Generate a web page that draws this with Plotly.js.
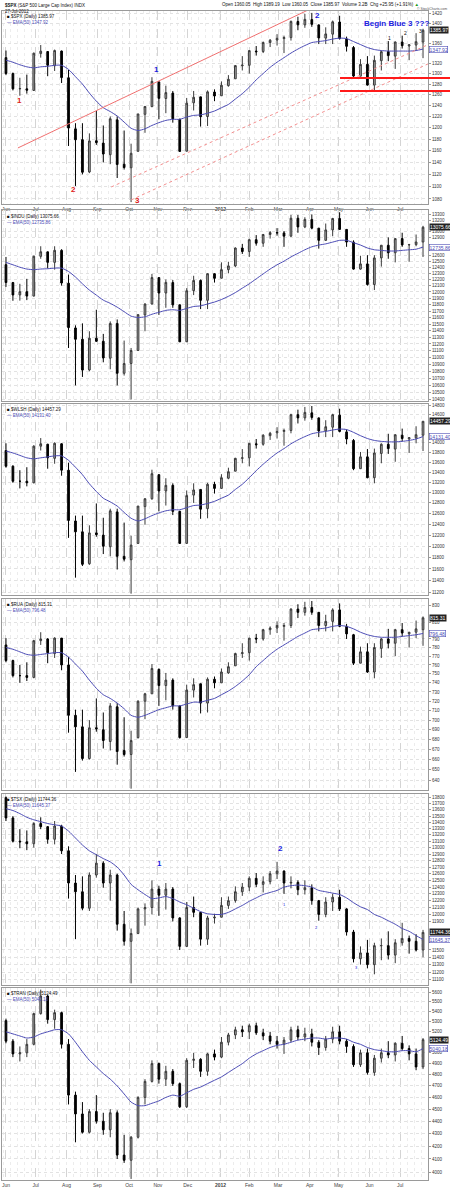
<!DOCTYPE html>
<html><head><meta charset="utf-8">
<script src="https://cdn.plot.ly/plotly-3.0.1.min.js"></script>
<style>html,body{margin:0;padding:0;background:#fff}#chart{width:450px;height:1188px}</style>
</head><body><div id="chart"></div>
<script>
// ---------- DATA (weekly bars) ----------
const weeks = ['2011-06-01','2011-06-08','2011-06-15','2011-06-22','2011-06-29','2011-07-06','2011-07-13','2011-07-20','2011-07-27','2011-08-03','2011-08-10','2011-08-17','2011-08-24','2011-08-31','2011-09-07','2011-09-14','2011-09-21','2011-09-28','2011-10-05','2011-10-12','2011-10-19','2011-10-26','2011-11-02','2011-11-09','2011-11-16','2011-11-23','2011-11-30','2011-12-07','2011-12-14','2011-12-21','2011-12-28','2012-01-04','2012-01-11','2012-01-18','2012-01-25','2012-02-01','2012-02-08','2012-02-15','2012-02-22','2012-02-29','2012-03-07','2012-03-14','2012-03-21','2012-03-28','2012-04-04','2012-04-11','2012-04-18','2012-04-25','2012-05-02','2012-05-09','2012-05-16','2012-05-23','2012-05-30','2012-06-06','2012-06-13','2012-06-20','2012-06-27','2012-07-04','2012-07-11','2012-07-18','2012-07-25'];

const monthTickDates = ['2011-06-01','2011-07-01','2011-08-01','2011-09-01','2011-10-03','2011-11-01','2011-12-01','2012-01-03','2012-02-01','2012-03-01','2012-04-02','2012-05-01','2012-06-01','2012-07-02'];
const monthTickLabels = ['Jun','Jul','Aug','Sep','Oct','Nov','Dec','<b>2012</b>','Feb','Mar','Apr','May','Jun','Jul'];

// $SPX
const spxOpen  = [1331,1300,1271,1271,1268,1339,1343,1315,1344,1292,1198,1179,1124,1177,1173,1153,1214,1137,1131,1159,1224,1238,1284,1253,1263,1215,1159,1245,1256,1220,1265,1258,1277,1290,1315,1316,1344,1343,1361,1366,1369,1371,1404,1397,1408,1397,1370,1378,1403,1368,1351,1295,1318,1278,1325,1343,1334,1362,1354,1356,1362];
const spxHigh  = [1345,1302,1292,1298,1341,1356,1344,1347,1345,1307,1208,1208,1190,1230,1204,1220,1220,1195,1172,1225,1239,1293,1285,1277,1267,1216,1254,1267,1256,1268,1270,1285,1297,1316,1334,1345,1354,1363,1368,1378,1375,1406,1414,1420,1422,1398,1392,1406,1416,1373,1354,1328,1334,1335,1345,1364,1363,1375,1357,1380,1389];
const spxLow   = [1297,1268,1258,1262,1267,1331,1295,1305,1282,1168,1101,1120,1122,1170,1140,1137,1114,1128,1075,1158,1191,1237,1215,1226,1209,1158,1159,1231,1202,1203,1248,1258,1275,1290,1306,1300,1335,1340,1352,1355,1340,1365,1386,1391,1393,1358,1358,1358,1367,1343,1292,1295,1277,1267,1306,1324,1309,1349,1326,1345,1330];
const spxClose = [1300.2,1271,1271.5,1268.5,1339.7,1343.8,1316.1,1345,1292.3,1199.4,1178.8,1123.5,1176.8,1174,1154.2,1216,1136.4,1131.4,1155.5,1224.6,1238.3,1285.1,1253.2,1263.9,1215.7,1158.7,1244.3,1255.2,1219.7,1265.3,1257.6,1277.8,1289.1,1315.4,1316.3,1344.9,1342.6,1361.2,1365.7,1369.6,1370.9,1404.2,1397.1,1408.5,1398.1,1370.3,1378.5,1403.4,1369.1,1353.4,1295.2,1317.8,1278,1325.7,1342.8,1335,1362.2,1354.7,1356.8,1362.7,1385.97];
const spxEma   = [1326,1322,1317,1313,1311,1313,1314,1316,1316,1308,1294,1280,1263,1248,1236,1229,1221,1210,1199,1195,1198,1204,1209,1213,1215,1215,1219,1222,1223,1226,1230,1236,1242,1252,1262,1274,1288,1300,1312,1322,1331,1340,1348,1355,1361,1363,1365,1368,1370,1369,1363,1357,1351,1347,1345,1344,1344,1344,1344,1345,1347.92];
const spxTicks = [1080,1100,1120,1140,1160,1180,1200,1220,1240,1260,1280,1300,1320,1340,1360,1380,1400,1420];

// $INDU
const induOpen  = [12442,12150,11952,12004,11934,12580,12655,12480,12680,12140,11440,11270,10820,11285,11240,10990,11509,10772,10913,11103,11640,11810,12230,11983,12150,11796,11232,12020,12184,11867,12294,12220,12360,12422,12720,12660,12862,12801,12950,12983,12978,12922,13233,13081,13212,13060,12850,13029,13228,13038,12821,12369,12455,12119,12554,12767,12640,12880,12772,12777,12822];
const induHigh  = [12570,12160,12130,12210,12590,12750,12660,12750,12700,12280,11480,11510,11390,11720,11350,11540,11570,11250,11140,11650,11820,12290,12230,12200,12190,11800,12060,12260,12200,12300,12300,12480,12490,12730,12790,12880,12940,12960,13010,13060,13010,13290,13290,13250,13300,13060,13140,13240,13338,13040,12850,12590,12600,12600,12770,12900,12880,12980,12790,12950,13100];
const induLow   = [12080,11860,11862,11870,11930,12540,12380,12360,12100,11140,10600,10720,10800,11230,10930,10830,10600,10740,10404,11100,11390,11800,11640,11750,11750,11230,11230,11950,11730,11730,12150,12220,12300,12400,12620,12570,12760,12740,12880,12930,12740,12910,12980,13060,13040,12710,12840,12920,13030,12740,12360,12360,12100,12030,12410,12540,12480,12740,12490,12750,12570];
const induClose = [12151,11952,12004,11934,12582,12657,12480,12681,12143,11445,11269,10818,11285,11240,10993,11509,10772,10913,11103,11644,11809,12231,11983,12153,11796,11231,12019,12184,11867,12294,12218,12360,12422,12720,12660,12862,12801,12950,12983,12978,12922,13233,13081,13212,13060,12850,13029,13228,13038,12821,12369,12455,12119,12554,12767,12640,12880,12772,12777,12822,13075.66];
const induEma   = [12480,12440,12400,12370,12360,12370,12375,12385,12385,12330,12240,12130,12030,11950,11870,11820,11760,11690,11620,11600,11610,11650,11680,11710,11720,11710,11740,11770,11780,11810,11840,11880,11930,11990,12060,12130,12210,12290,12370,12440,12500,12570,12630,12690,12740,12770,12790,12820,12850,12850,12810,12770,12720,12690,12680,12670,12670,12680,12690,12700,12735.86];
const induTicks = [10400,10500,10600,10700,10800,10900,11000,11100,11200,11300,11400,11500,11600,11700,11800,11900,12000,12100,12200,12300,12400,12500,12600,12700,12800,12900,13000,13100,13200,13300];

// $WLSH
const wlshOpen  = [13840,13520,13220,13220,13190,13930,13970,13680,13980,13440,12460,12260,11690,12240,12200,11990,12630,11820,11760,12050,12730,12880,13350,13030,13140,12640,12050,12950,13060,12690,13160,13080,13280,13420,13680,13690,13980,13970,14150,14210,14240,14260,14600,14530,14640,14530,14250,14330,14590,14230,14050,13470,13710,13290,13780,13970,13870,14160,14080,14100,14160];
const wlshHigh  = [13990,13540,13440,13500,13950,14100,13980,14010,13990,13590,12560,12560,12380,12790,12520,12690,12690,12430,12190,12740,12890,13450,13360,13280,13180,12650,13040,13180,13060,13190,13210,13360,13490,13690,13870,13990,14080,14180,14230,14330,14300,14620,14710,14770,14790,14540,14480,14620,14730,14280,14080,13810,13870,13880,13990,14190,14180,14300,14110,14350,14460];
const wlshLow   = [13490,13190,13080,13120,13180,13840,13470,13570,13330,12150,11450,11650,11670,12170,11860,11820,11590,11730,11180,12040,12390,12860,12640,12750,12570,12040,12050,12800,12500,12510,12980,13080,13260,13420,13580,13520,13880,13940,14060,14090,13940,14200,14410,14470,14490,14120,14120,14120,14220,13970,13440,13470,13280,13180,13580,13770,13610,14030,13790,13990,13830];
const wlshClose = [13520,13220,13220,13190,13930,13980,13690,13990,13440,12470,12260,11680,12240,12210,12000,12650,11820,11770,12020,12740,12880,13370,13030,13140,12640,12050,12940,13050,12680,13160,13080,13290,13410,13680,13690,13990,13960,14160,14200,14240,14260,14600,14530,14650,14540,14250,14340,14600,14240,14080,13470,13710,13290,13790,13970,13880,14170,14090,14110,14170,14457.29];
const wlshEma   = [13830,13790,13740,13690,13670,13690,13710,13730,13730,13640,13500,13350,13170,13020,12890,12820,12740,12620,12510,12460,12500,12560,12610,12650,12670,12670,12710,12750,12760,12790,12830,12890,12950,13060,13160,13290,13430,13560,13680,13790,13880,13980,14060,14130,14190,14220,14240,14270,14290,14280,14220,14150,14090,14050,14030,14020,14020,14030,14050,14080,14131.4];
const wlshTicks = [11200,11400,11600,11800,12000,12200,12400,12600,12800,13000,13200,13400,13600,13800,14000,14200,14400,14600,14800];

// $RUA
const ruaOpen  = [783,765,748,748,746,788,790,773,791,760,705,693,661,692,690,678,714,669,665,682,720,728,755,737,743,715,682,732,739,718,744,740,751,759,773,774,791,790,801,803,805,806,826,822,828,822,806,811,825,805,795,762,775,752,779,790,785,801,796,798,801];
const ruaHigh  = [791,766,760,763,789,798,791,792,791,769,711,711,700,723,708,718,718,703,689,721,729,761,756,751,745,715,738,745,739,746,747,756,763,774,785,791,796,802,805,811,809,827,832,835,836,822,819,827,833,808,796,781,785,785,791,802,802,809,798,812,817];
const ruaLow   = [763,746,740,742,745,783,762,768,754,687,648,659,660,688,671,669,655,663,632,681,701,728,715,721,711,681,682,724,707,708,734,740,750,759,768,765,785,788,795,797,788,803,815,818,819,799,799,799,804,790,760,762,751,745,768,779,770,793,780,791,782];
const ruaClose = [765,748,748,746,788,790,774,791,760,705,693,661,692,691,679,715,668,665,679,720,728,756,737,743,715,682,732,738,718,744,740,752,758,773,774,791,790,801,803,806,806,826,822,828,822,806,811,825,805,796,762,775,752,780,790,785,801,797,798,802,815.31];
const ruaEma   = [780,778,775,772,771,772,773,774,774,769,761,753,743,734,727,723,718,712,705,703,705,708,711,713,715,715,717,719,719,721,723,727,731,736,742,749,758,765,772,778,783,788,793,797,801,802,803,805,806,805,802,798,795,793,792,792,792,793,794,795,796.48];
const ruaTicks = [630,640,650,660,670,680,690,700,710,720,730,740,750,760,770,780,790,800,810,820,830,840];

// $TSX
const tsxOpen  = [13800,13470,13100,13090,13060,13380,13330,13130,13340,12950,12460,12330,12090,12580,12760,12460,12580,11860,11620,11730,12080,12100,12370,12280,12370,11950,11550,12100,12030,11650,11950,11960,12130,12200,12330,12400,12530,12440,12480,12600,12640,12460,12470,12360,12390,12200,12000,12180,12250,12080,11750,11380,11460,11300,11560,11560,11430,11600,11660,11620,11500];
const tsxHigh  = [13820,13500,13290,13270,13400,13480,13340,13420,13360,13020,12580,12560,12620,12900,12790,12660,12600,12050,11800,12100,12160,12500,12420,12460,12400,11960,12180,12260,12030,11980,12010,12250,12260,12410,12460,12560,12610,12560,12640,12780,12650,12560,12500,12500,12440,12210,12250,12300,12360,12090,11780,11550,11640,11600,11660,11760,11650,11880,11700,11720,11780];
const tsxLow   = [13420,13080,12990,12960,13000,13290,13060,13050,12900,12230,11650,12060,12050,12540,12390,12200,11770,11560,11050,11720,11840,12000,11980,12070,11900,11500,11540,11960,11560,11570,11870,11960,12080,12170,12270,12340,12400,12320,12440,12520,12300,12380,12280,12290,12140,11910,11960,12050,12050,11700,11330,11300,11250,11170,11360,11370,11320,11560,11450,11480,11400];
const tsxClose = [13470,13100,13090,13060,13380,13330,13130,13340,12950,12460,12330,12090,12580,12760,12460,12580,11860,11620,11730,12080,12100,12370,12280,12370,11950,11550,12100,12030,11650,11950,11960,12130,12200,12330,12400,12530,12440,12480,12600,12640,12460,12470,12360,12390,12200,12000,12180,12250,12080,11750,11380,11460,11300,11560,11560,11430,11600,11660,11620,11500,11744.36];
const tsxEma   = [13620,13590,13540,13480,13440,13410,13380,13360,13340,13260,13150,13040,12950,12890,12830,12780,12700,12580,12440,12360,12290,12230,12240,12260,12230,12180,12140,12090,12040,12010,12000,12000,12030,12080,12130,12190,12240,12290,12320,12350,12400,12420,12430,12420,12400,12350,12330,12310,12290,12240,12170,12110,12070,12000,11960,11910,11860,11800,11760,11700,11645.37];
const tsxTicks = [11100,11200,11300,11400,11500,11600,11700,11800,11900,12000,12100,12200,12300,12400,12500,12600,12700,12800,12900,13000,13100,13200,13300,13400,13500,13600,13700,13800];

// $TRAN
const tranOpen  = [5310,5110,4990,5000,5080,5380,5560,5320,5390,5080,4620,4460,4310,4480,4400,4330,4470,4130,4090,4270,4600,4740,4900,4760,4830,4720,4520,4930,4940,4830,4990,4960,5100,5170,5220,5200,5260,5190,5160,5110,5080,5120,5220,5150,5180,5100,5050,5130,5200,5110,5060,4890,5000,4820,4950,5000,4980,5090,5040,4990,4870];
const tranHigh  = [5330,5130,5060,5130,5390,5627,5570,5420,5400,5130,4650,4560,4500,4620,4470,4500,4490,4290,4280,4610,4760,4930,4910,4880,4850,4730,4950,5000,4950,5000,5030,5150,5190,5250,5260,5280,5290,5230,5200,5160,5150,5250,5260,5240,5230,5120,5160,5250,5260,5130,5080,5030,5040,4980,5040,5110,5100,5160,5070,5040,5140];
const tranLow   = [5090,4960,4920,4960,5070,5370,5280,5230,5040,4540,4230,4300,4300,4380,4290,4270,4100,4070,3950,4260,4540,4730,4720,4700,4700,4510,4510,4860,4780,4790,4930,4950,5070,5130,5150,5130,5170,5120,5080,5040,4990,5100,5120,5110,5060,4980,5020,5090,5080,5000,4870,4870,4800,4790,4910,4950,4920,5020,4930,4840,4850];
const tranClose = [5110,4990,5000,5080,5380,5560,5320,5390,5080,4620,4460,4310,4480,4400,4330,4470,4130,4090,4270,4600,4740,4900,4760,4830,4720,4520,4930,4940,4830,4990,4960,5100,5170,5220,5200,5260,5190,5160,5110,5080,5120,5220,5150,5180,5100,5050,5130,5200,5110,5060,4890,5000,4820,4950,5000,4980,5090,5040,4990,4870,5124.49];
const tranEma   = [5200,5180,5160,5140,5150,5180,5200,5220,5220,5180,5100,5010,4930,4870,4810,4760,4700,4630,4560,4530,4530,4550,4570,4600,4620,4610,4640,4670,4690,4720,4750,4780,4820,4860,4900,4950,4990,5020,5050,5070,5080,5100,5120,5130,5140,5140,5130,5140,5140,5130,5100,5080,5050,5030,5020,5010,5010,5020,5020,5010,5040.18];
const tranTicks = [4000,4100,4200,4300,4400,4500,4600,4700,4800,4900,5000,5100,5200,5300,5400,5500,5600];

// Panel-1 trendlines (date, price) and support levels
const trendUpperX = ['2011-06-13','2012-04-22'];
const trendUpperY = [1164.6,1450];
const trendMidX   = ['2011-09-15','2012-07-30'];
const trendMidY   = [1099.3,1356.7];
const trendLowX   = ['2011-10-05','2012-07-30'];
const trendLowY   = [1078.4,1318.7];
const supportLevels = [1291.7,1267.1];

// ---------- LAYOUT ----------
const PL=2, PT=11, PW=426, PH=1169;
const pxX = v => (v-PL)/PW;
const pxY = v => (PT+PH-v)/PH;
const panelPix = [[11,204],[210,401],[404,595],[599,790],[794,985],[988,1180]];

const panels = [
  {sym:'$SPX', o:spxOpen,h:spxHigh,l:spxLow,c:spxClose,e:spxEma,ticks:spxTicks,range:[1072,1426]},
  {sym:'$INDU',o:induOpen,h:induHigh,l:induLow,c:induClose,e:induEma,ticks:induTicks},
  {sym:'$WLSH',o:wlshOpen,h:wlshHigh,l:wlshLow,c:wlshClose,e:wlshEma,ticks:wlshTicks},
  {sym:'$RUA', o:ruaOpen,h:ruaHigh,l:ruaLow,c:ruaClose,e:ruaEma,ticks:ruaTicks},
  {sym:'$TSX', o:tsxOpen,h:tsxHigh,l:tsxLow,c:tsxClose,e:tsxEma,ticks:tsxTicks},
  {sym:'$TRAN',o:tranOpen,h:tranHigh,l:tranLow,c:tranClose,e:tranEma,ticks:tranTicks}
];

const EMA_COLOR = '#4b4bb5';
const FONT = 'Arial, Liberation Sans, sans-serif';
const data = [];
const layout = {
  width:450, height:1188, margin:{l:PL,r:450-PL-PW,t:PT,b:1188-PT-PH},
  paper_bgcolor:'#ffffff', plot_bgcolor:'#ffffff', showlegend:false, boxgap:0.65,
  font:{family:FONT, size:5, color:'#222'},
  annotations:[], shapes:[]
};
const fmt = v => v.toFixed(2);

panels.forEach((p,i)=>{
  const s = i===0 ? '' : String(i+1);
  const xa = 'x'+s, ya = 'y'+s;
  const dom = [pxY(panelPix[i][1]), pxY(panelPix[i][0])];
  const lo = p.range ? p.range[0] : Math.min(...p.l)*0.998;
  const hi = p.range ? p.range[1] : Math.max(...p.h)*1.003;
  const Hpx = panelPix[i][1]-panelPix[i][0];
  const toPix = v => Hpx*(Math.log10(v)-Math.log10(lo))/(Math.log10(hi)-Math.log10(lo));
  const last = p.c[p.c.length-1], lastE = p.e[p.e.length-1];
  const pc = toPix(last); let pe = toPix(lastE);
  let eShift = 0;   // pixels, positive = up
  if (Math.abs(pc-pe) < 7) { eShift = (pe<=pc ? -1 : 1)*(7-Math.abs(pc-pe)); pe += eShift; }
  const shownTicks = p.ticks.filter(t => Math.abs(toPix(t)-pc) > 4.2 && Math.abs(toPix(t)-pe) > 4.2);

  layout['xaxis'+s] = {
    domain:[0,1], anchor:ya, type:'date', range:['2011-05-28','2012-07-30'],
    tickmode:'array', tickvals:monthTickDates, ticktext:monthTickLabels,
    showticklabels:(i===0||i===5), tickfont:{size:5,color:'#444'}, ticks:'',
    showgrid:true, gridcolor:'#d4d4d4', griddash:'dash', gridwidth:1,
    minor:{dtick:7*86400000, tick0:'2011-05-30', showgrid:true, gridcolor:'#ececec', griddash:'dot', ticks:''},
    rangeslider:{visible:false}, showline:true, mirror:true, linecolor:'#9a9a9a', linewidth:1,
    zeroline:false, fixedrange:true
  };
  layout['yaxis'+s] = {
    domain:dom, anchor:xa, side:'right', type:'log',
    range:[Math.log10(lo), Math.log10(hi)],
    tickmode:'array', tickvals:shownTicks, ticktext:shownTicks.map(String),
    tickfont:{size:4.5,color:'#333'}, ticks:'outside', ticklen:2, tickcolor:'#999',
    showgrid:true, gridcolor:'#e2e2e2', griddash:'dot', gridwidth:1,
    showline:true, mirror:true, linecolor:'#9a9a9a', linewidth:1, zeroline:false, fixedrange:true
  };
  data.push({
    type:'candlestick', x:weeks, open:p.o, high:p.h, low:p.l, close:p.c, xaxis:xa, yaxis:ya,
    increasing:{line:{color:'#3a3a3a',width:1}, fillcolor:'#a8a8a8'},
    decreasing:{line:{color:'#000000',width:1}, fillcolor:'#000000'},
    whiskerwidth:0, hoverinfo:'skip', showlegend:false
  });
  data.push({
    type:'scatter', mode:'lines', x:weeks, y:p.e, xaxis:xa, yaxis:ya,
    line:{color:EMA_COLOR,width:1,shape:'spline',smoothing:0.6}, hoverinfo:'skip'
  });
  const top = panelPix[i][0] + (i===1 ? 1 : 0);
  layout.annotations.push(
    {xref:'paper',yref:'paper',x:pxX(5),y:pxY(top+1),xanchor:'left',yanchor:'top',showarrow:false,align:'left',
     text:'<b>■</b> '+p.sym+' (Daily) '+fmt(last)+'<br><span style="color:'+EMA_COLOR+'">— EMA(50) '+fmt(lastE)+'</span>',
     font:{size:4.5,color:'#111'}},
    {xref:'paper',yref:ya,x:pxX(429),y:Math.log10(last),xanchor:'left',yanchor:'middle',showarrow:false,
     text:fmt(last),font:{size:5,color:'#ffffff'},bgcolor:'#222222',borderpad:0},
    {xref:'paper',yref:ya,x:pxX(429),y:Math.log10(lastE),yshift:eShift,xanchor:'left',yanchor:'middle',showarrow:false,
     text:fmt(lastE),font:{size:5,color:EMA_COLOR},bgcolor:'#ffffff',bordercolor:EMA_COLOR,borderwidth:0.6,borderpad:0}
  );
});

// trendlines in panel 1
data.push({type:'scatter',mode:'lines',x:trendUpperX,y:trendUpperY,xaxis:'x',yaxis:'y',line:{color:'#f07070',width:1},hoverinfo:'skip'});
data.push({type:'scatter',mode:'lines',x:trendMidX,y:trendMidY,xaxis:'x',yaxis:'y',line:{color:'#f49090',width:1,dash:'dot'},hoverinfo:'skip'});
data.push({type:'scatter',mode:'lines',x:trendLowX,y:trendLowY,xaxis:'x',yaxis:'y',line:{color:'#f49090',width:1,dash:'dot'},hoverinfo:'skip'});
supportLevels.forEach(v=>{
  layout.shapes.push({type:'line',xref:'paper',yref:'y',x0:pxX(340),x1:pxX(452),y0:v,y1:v,line:{color:'#ff1a1a',width:2}});
});

// wave labels
const L = (t,x,y,ya,col,size,bold)=>({xref:ya==='y'?'x':'x5',yref:ya,x:x,y:Math.log10(y),text:bold?'<b>'+t+'</b>':t,showarrow:false,
  font:{size:size,color:col,family:FONT},xanchor:'center',yanchor:'middle'});
layout.annotations.push(
  L('1','2011-06-15',1250,'y','#e02020',8,true),
  L('2','2011-08-08',1094.5,'y','#e02020',8,true),
  L('3','2011-10-11',1077,'y','#e02020',8,true),
  L('1','2011-10-31',1307,'y','#2020e0',8,true),
  L('2','2012-04-10',1415.8,'y','#2020e0',8,true),
  L('1','2012-06-21',1370.5,'y','#111',5,false),
  L('2','2012-07-07',1380.6,'y','#111',5,false),
  L('3','2012-07-22',1385,'y','#111',5,false),
  L('1','2011-11-03',12748,'y5','#2020e0',8,true),
  L('2','2012-03-03',12982,'y5','#2020e0',8,true),
  L('1','2012-03-07',12141,'y5','#2020e0',4,false),
  L('2','2012-04-09',11815,'y5','#2020e0',4,false),
  L('3','2012-05-19',11265,'y5','#2020e0',4,false)
);
layout.annotations.push(
  {xref:'paper',yref:'paper',x:pxX(396),y:pxY(23),text:'<b>Begin Blue 3 ???</b>',showarrow:false,
   font:{size:8,color:'#2020e0'},xanchor:'center',yanchor:'middle'},
  {xref:'paper',yref:'paper',x:pxX(3),y:pxY(0.5),xanchor:'left',yanchor:'top',showarrow:false,align:'left',
   text:'<b>$SPX</b> (S&amp;P 500 Large Cap Index) INDX<br>27-Jul-2012',font:{size:4.5,color:'#111'}},
  {xref:'paper',yref:'paper',x:pxX(421),y:pxY(5),xanchor:'right',yanchor:'middle',showarrow:false,
   text:'Open 1360.05  High 1389.19  Low 1360.05  Close 1385.97  Volume 3.2B  Chg +25.95 (+1.91%) <span style="color:#1a9a1a">▲</span>',font:{size:4.5,color:'#111'}},
  {xref:'paper',yref:'paper',x:pxX(449),y:pxY(9),xanchor:'right',yanchor:'middle',showarrow:false,
   text:'© StockCharts.com',font:{size:3.5,color:'#555'}}
);

Plotly.newPlot('chart', data, layout, {staticPlot:true, displayModeBar:false});
</script>
</body></html>
